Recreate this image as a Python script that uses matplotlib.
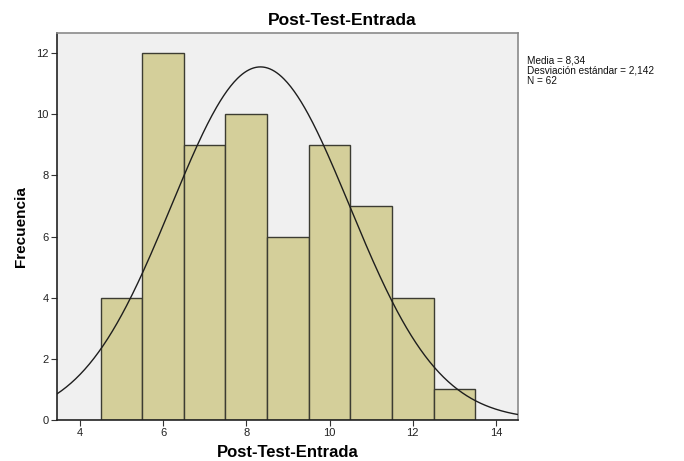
import numpy as np
import matplotlib.pyplot as plt
plt.rcParams['font.family'] = 'Liberation Sans'

# Histogram data (bins centered on integers, width 1)
bin_centers = [5, 6, 7, 8, 9, 10, 11, 12, 13]
counts = [4, 12, 9, 10, 6, 9, 7, 4, 1]
mean = 8.34
std = 2.142
n = 62

fig = plt.figure(figsize=(6.84, 4.61), dpi=100)
ax = fig.add_axes([0.0833, 0.089, 0.674, 0.839])
ax.set_facecolor('#f0f0f0')

ax.bar(bin_centers, counts, width=1.0, color='#d4cf9a', edgecolor='#3c3c32', linewidth=1.0, zorder=2)

# Normal curve scaled to counts
xs = np.linspace(3.45, 14.55, 400)
ys = n * 1.0 / (std * np.sqrt(2 * np.pi)) * np.exp(-0.5 * ((xs - mean) / std) ** 2)
ax.plot(xs, ys, color='#1e1e1e', linewidth=1.0, zorder=3)

ax.set_xlim(3.45, 14.53)
ax.set_ylim(0, 12.65)
ax.set_xticks([4, 6, 8, 10, 12, 14])
ax.set_yticks([0, 2, 4, 6, 8, 10, 12])
ax.tick_params(labelsize=8, length=4, width=0.8, color='#333333', labelcolor='#222222', pad=2)

for side in ['top', 'right']:
    ax.spines[side].set_color('#8a8a8a')
    ax.spines[side].set_linewidth(1.2)
for side in ['left', 'bottom']:
    ax.spines[side].set_color('#222222')
    ax.spines[side].set_linewidth(1.2)

# title is centred on the whole figure
fig.text(0.5, 0.955, 'Post-Test-Entrada', fontsize=12.5, fontweight='bold', ha='center', va='center')
ax.set_xlabel('Post-Test-Entrada', fontsize=12, fontweight='bold', labelpad=5)
ax.set_ylabel('Frecuencia', fontsize=11, fontweight='bold', labelpad=6)

fig.text(0.770, 0.880, 'Media = 8,34\nDesviación estándar = 2,142\nN = 62',
         fontsize=7.2, va='top', ha='left', linespacing=1.05, color='#111111')

fig.savefig('out.png', dpi=100)
